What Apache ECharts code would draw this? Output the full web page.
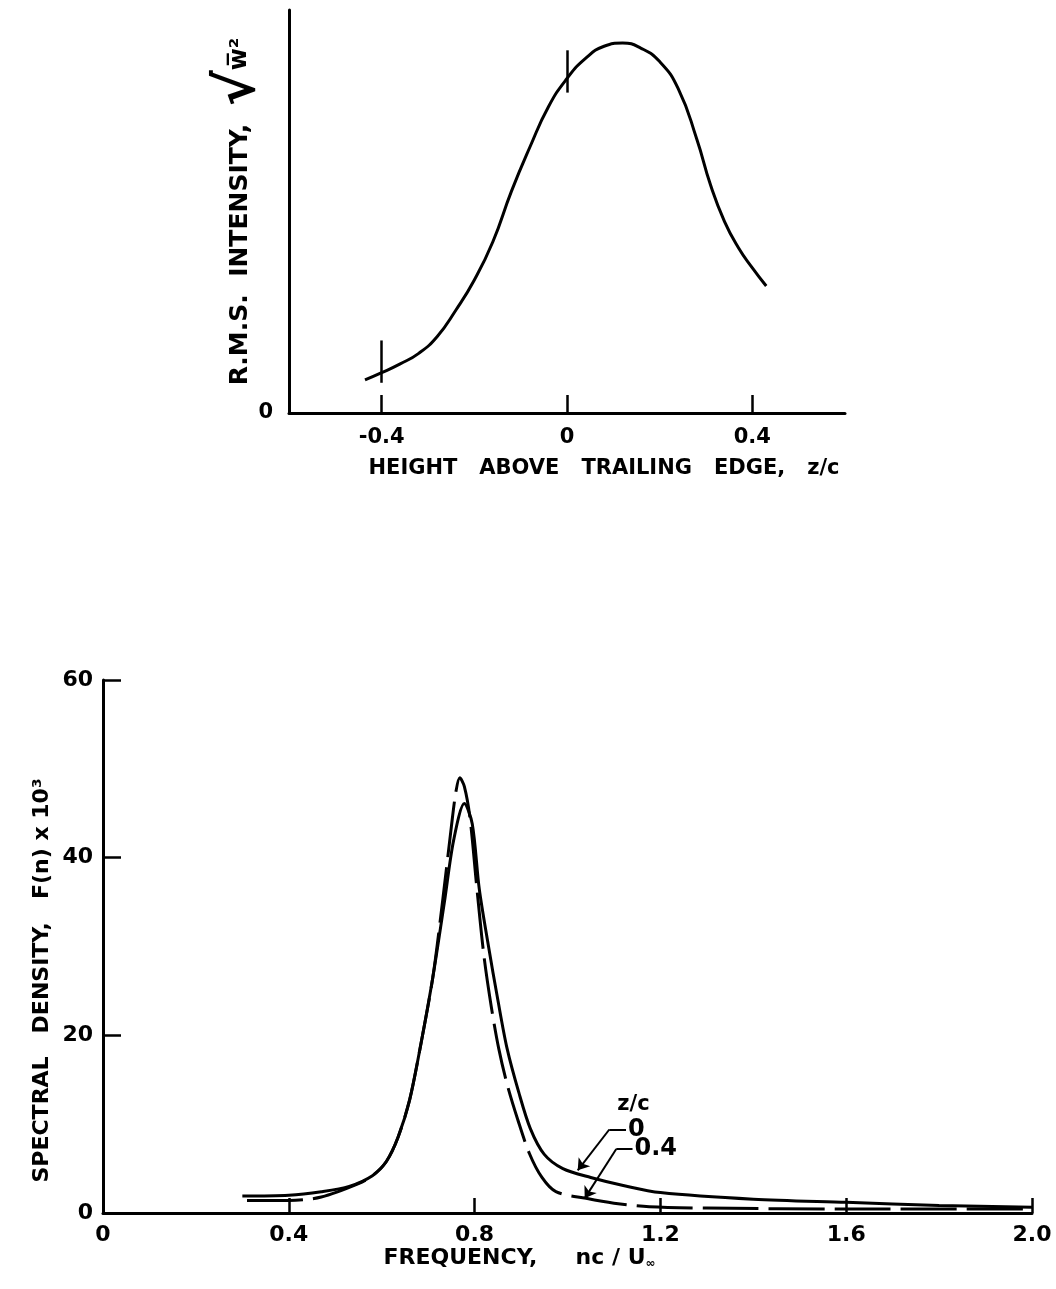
<!DOCTYPE html>
<html>
<head>
<meta charset="utf-8">
<script src="https://cdn.jsdelivr.net/npm/echarts@6/dist/echarts.min.js"></script>
<style>
html, body { margin: 0; padding: 0; background: #fff; }
#chart { width: 1056px; height: 1289px; }
</style>
</head>
<body>
<div id="chart"></div>
<script>
// top panel: r.m.s. intensity vs height above trailing edge
var rmsZ   = [-0.436, -0.40, -0.36, -0.32, -0.28, -0.24, -0.20, -0.16, -0.12, -0.08, -0.04, 0, 0.04, 0.08, 0.12, 0.16, 0.20, 0.24, 0.28, 0.31, 0.34, 0.37, 0.40, 0.43];
var rmsVal = [0.082, 0.10, 0.122, 0.148, 0.19, 0.255, 0.33, 0.425, 0.55, 0.66, 0.76, 0.83, 0.88, 0.91, 0.918, 0.905, 0.872, 0.805, 0.68, 0.565, 0.475, 0.41, 0.36, 0.315];
// short vertical bars on the curve at the measuring stations
var stationZ  = [-0.4, 0];
var stationLo = [0.075, 0.795];
var stationHi = [0.18, 0.90];
var topTicks = [-0.4, 0, 0.4];

// bottom panel: spectral density, z/c = 0 (solid) and z/c = 0.4 (dashed)
var freq0 = [0.30, 0.40, 0.47, 0.53, 0.58, 0.61, 0.635, 0.66, 0.685, 0.71, 0.735, 0.755, 0.778, 0.795, 0.81, 0.83, 0.85, 0.87, 0.895, 0.92, 0.95, 0.99, 1.05, 1.12, 1.20, 1.40, 1.60, 1.80, 2.0];
var spec0 = [1.9, 2.0, 2.4, 3.0, 4.2, 5.8, 8.5, 12.7, 19.2, 26.5, 35.0, 42.0, 46.1, 43.8, 36.5, 30.0, 24.0, 18.5, 13.6, 9.5, 6.6, 5.0, 4.0, 3.1, 2.3, 1.55, 1.2, 0.85, 0.65];
var freq4 = [0.31, 0.40, 0.47, 0.55, 0.58, 0.61, 0.635, 0.66, 0.685, 0.71, 0.732, 0.75, 0.76, 0.768, 0.778, 0.79, 0.805, 0.82, 0.836, 0.852, 0.87, 0.893, 0.918, 0.945, 0.975, 1.04, 1.10, 1.176, 1.30, 1.60, 2.0];
var spec4 = [1.4, 1.4, 1.8, 3.3, 4.2, 5.8, 8.5, 12.7, 19.2, 26.5, 35.5, 43.5, 47.5, 49.0, 48.0, 44.5, 36.5, 29.0, 23.2, 18.5, 14.5, 10.5, 6.7, 4.0, 2.4, 1.65, 1.1, 0.7, 0.55, 0.45, 0.45];

// legend annotation (z/c values with leader arrows)
var noteText = ['z/c', '0', '0.4'];
var noteF    = [1.142, 1.126, 1.140];
var noteS    = [12.2, 9.4, 7.2];
var leader0  = [[1.126, 9.4], [1.090, 9.4], [1.022, 4.8]];
var leader4  = [[1.140, 7.2], [1.105, 7.2], [1.037, 1.65]];

function pairs(xs, ys) {
    var out = [];
    for (var i = 0; i < xs.length; i++) {
        out.push([xs[i], ys[i]]);
    }
    return out;
}

var FONT = 'DejaVu Sans';
var chart = echarts.init(document.getElementById('chart'));

var stationLines = [];
for (var i = 0; i < stationZ.length; i++) {
    stationLines.push([{coord: [stationZ[i], stationLo[i]]}, {coord: [stationZ[i], stationHi[i]]}]);
}

var textBase = {color: '#000', fontFamily: FONT, fontWeight: 'bold'};
function txt(extra) {
    return Object.assign({}, textBase, extra);
}

var option = {
    backgroundColor: '#fff',
    animation: false,
    grid: [
        {left: 289, top: 10, width: 556, height: 403},
        {left: 103, top: 680, width: 929, height: 533}
    ],
    xAxis: [{
        gridIndex: 0,
        type: 'value',
        min: -0.6,
        max: 0.6,
        splitLine: {show: false},
        axisLine: {onZero: false, lineStyle: {color: '#000', width: 3}},
        axisTick: {show: true, inside: true, length: 18, customValues: topTicks, lineStyle: {color: '#000', width: 2.5}},
        axisLabel: txt({customValues: topTicks, fontSize: 21, margin: 14,
            formatter: function (v) { return v === 0 ? '0' : v.toFixed(1); }}),
        name: 'HEIGHT   ABOVE   TRAILING   EDGE,   z/c',
        nameLocation: 'middle',
        nameGap: 45,
        nameMoveOverlap: false,
        nameTextStyle: txt({fontSize: 21, padding: [0, 0, 0, 74]})
    }, {
        gridIndex: 1,
        type: 'value',
        min: 0,
        max: 2,
        interval: 0.4,
        splitLine: {show: false},
        axisLine: {onZero: false, lineStyle: {color: '#000', width: 3}},
        axisTick: {inside: true, length: 15, lineStyle: {color: '#000', width: 2.5}},
        axisLabel: txt({fontSize: 22, margin: 11,
            formatter: function (v) { return v === 0 ? '0' : v.toFixed(1); }}),
        name: 'FREQUENCY,     nc / U{sub|∞}',
        nameLocation: 'middle',
        nameGap: 33,
        nameMoveOverlap: false,
        nameTextStyle: txt({fontSize: 22, padding: [0, 96, 0, 0],
            rich: {sub: txt({fontSize: 12, padding: [12, 0, 0, 0]})}})
    }],
    yAxis: [{
        gridIndex: 0,
        type: 'value',
        min: 0,
        max: 1,
        splitLine: {show: false},
        axisLine: {show: true, onZero: false, lineStyle: {color: '#000', width: 3}},
        axisTick: {show: false},
        axisLabel: txt({customValues: [0], fontSize: 21, margin: 16}),
        name: 'R.M.S.  INTENSITY,  {sq|√}{w|w̅²}',
        nameLocation: 'middle',
        nameGap: 22,
        nameMoveOverlap: false,
        nameTextStyle: txt({fontSize: 25,
            rich: {sq: txt({fontSize: 54}), w: txt({fontSize: 24})}})
    }, {
        gridIndex: 1,
        type: 'value',
        min: 0,
        max: 60,
        interval: 20,
        splitLine: {show: false},
        axisLine: {show: true, onZero: false, lineStyle: {color: '#000', width: 3}},
        axisTick: {show: true, inside: true, length: 18, lineStyle: {color: '#000', width: 2.5}},
        axisLabel: txt({fontSize: 22, margin: 10}),
        name: 'SPECTRAL   DENSITY,   F(n) x 10³',
        nameLocation: 'middle',
        nameGap: 50,
        nameMoveOverlap: false,
        nameTextStyle: txt({fontSize: 22, padding: [0, 68, 0, 0]})
    }],
    series: [{
        name: 'rms',
        type: 'line',
        xAxisIndex: 0,
        yAxisIndex: 0,
        data: pairs(rmsZ, rmsVal),
        smooth: 0.5,
        showSymbol: false,
        lineStyle: {color: '#000', width: 3},
        markLine: {
            silent: true,
            symbol: 'none',
            label: {show: false},
            lineStyle: {type: 'solid', color: '#000', width: 2.5},
            data: stationLines
        }
    }, {
        name: 'z/c = 0',
        type: 'line',
        xAxisIndex: 1,
        yAxisIndex: 1,
        data: pairs(freq0, spec0),
        smooth: 0.3,
        showSymbol: false,
        lineStyle: {color: '#000', width: 3}
    }, {
        name: 'z/c = 0.4',
        type: 'line',
        xAxisIndex: 1,
        yAxisIndex: 1,
        data: pairs(freq4, spec4),
        smooth: 0.3,
        showSymbol: false,
        lineStyle: {color: '#000', width: 3, type: [56, 10]}
    }, {
        name: 'leader-stems',
        type: 'lines',
        coordinateSystem: 'cartesian2d',
        xAxisIndex: 1,
        yAxisIndex: 1,
        symbol: 'none',
        lineStyle: {color: '#000', width: 2, opacity: 1, curveness: 0},
        data: [{coords: [leader0[0], leader0[1]]}, {coords: [leader4[0], leader4[1]]}]
    }, {
        name: 'leader-arrows',
        type: 'lines',
        coordinateSystem: 'cartesian2d',
        xAxisIndex: 1,
        yAxisIndex: 1,
        symbol: ['none', 'arrow'],
        symbolSize: 11,
        lineStyle: {color: '#000', width: 2, opacity: 1, curveness: 0},
        data: [{coords: [leader0[1], leader0[2]]}, {coords: [leader4[1], leader4[2]]}]
    }, {
        name: 'notes',
        type: 'scatter',
        xAxisIndex: 1,
        yAxisIndex: 1,
        symbolSize: 0,
        itemStyle: {color: '#000', opacity: 1},
        label: {
            show: true,
            formatter: '{b}',
            distance: 2,
            color: '#000',
            opacity: 1,
            fontFamily: FONT,
            fontWeight: 'bold',
            fontSize: 24
        },
        data: noteText.map(function (t, i) {
            return {
                name: t,
                value: [noteF[i], noteS[i]],
                label: i === 0 ? {position: 'inside', fontSize: 21} : {position: 'right'}
            };
        })
    }]
};

chart.setOption(option);
</script>
</body>
</html>
